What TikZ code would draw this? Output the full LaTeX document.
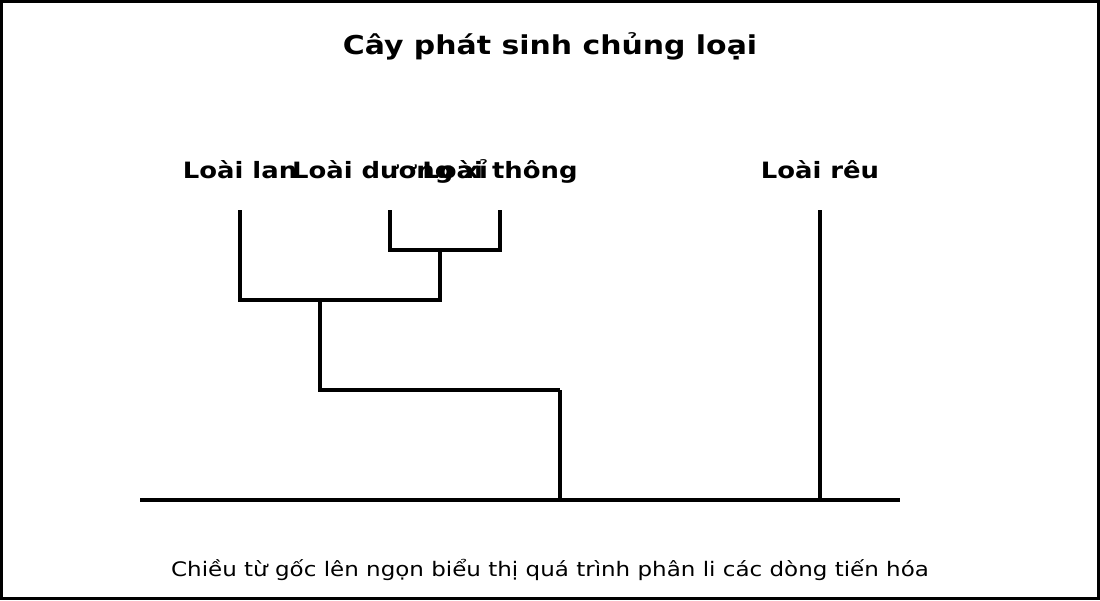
\documentclass[tikz,border=0pt]{standalone}
\usepackage{fontspec}
\setmainfont[FakeStretch=1.15]{DejaVu Sans}
\begin{document}
\begin{tikzpicture}[x=1pt,y=-1pt,
  branch/.style={line width=3.5pt, line cap=butt},
  label/.style={font=\bfseries\fontsize{22.5}{27}\selectfont, inner sep=0pt, anchor=base},
]
\useasboundingbox (0,0) rectangle (1100,600);
\draw[line width=3pt] (1.5,1.5) rectangle (1098.5,598.5);
\node[font=\bfseries\fontsize{26}{30}\selectfont, inner sep=0pt, anchor=base] (title) at (550,54.5) {Cây phát sinh chủng loại};
\node[label] (lan) at (240,178.5) {Loài lan};
\node[label] (duong) at (390,178.5) {Loài dương xỉ};
\node[label] (thong) at (500,178.5) {Loài thông};
\node[label] (reu) at (820,178.5) {Loài rêu};
\coordinate (tlan) at (240,210);
\coordinate (tduong) at (390,210);
\coordinate (tthong) at (500,210);
\coordinate (treu) at (820,210);
\coordinate (j1) at (440,250);
\coordinate (j2) at (320,300);
\coordinate (j3) at (560,390);
\coordinate (b1) at (140,500);
\coordinate (b2) at (900,500);
\draw[branch] (tduong) |- (j1);
\draw[branch] (tthong) |- (j1);
\draw[branch] (tlan) |- (j2);
\draw[branch] (j1) |- (j2);
\draw[branch] (j2) |- (j3);
\draw[branch] (j3) -- (j3 |- b1);
\draw[branch] (treu) -- (treu |- b1);
\draw[branch] (b1) -- (b2);
\node[font=\fontsize{20}{24}\selectfont, inner sep=0pt, anchor=base] (cap) at (550,576) {Chiều từ gốc lên ngọn biểu thị quá trình phân li các dòng tiến hóa};
\end{tikzpicture}
\end{document}
